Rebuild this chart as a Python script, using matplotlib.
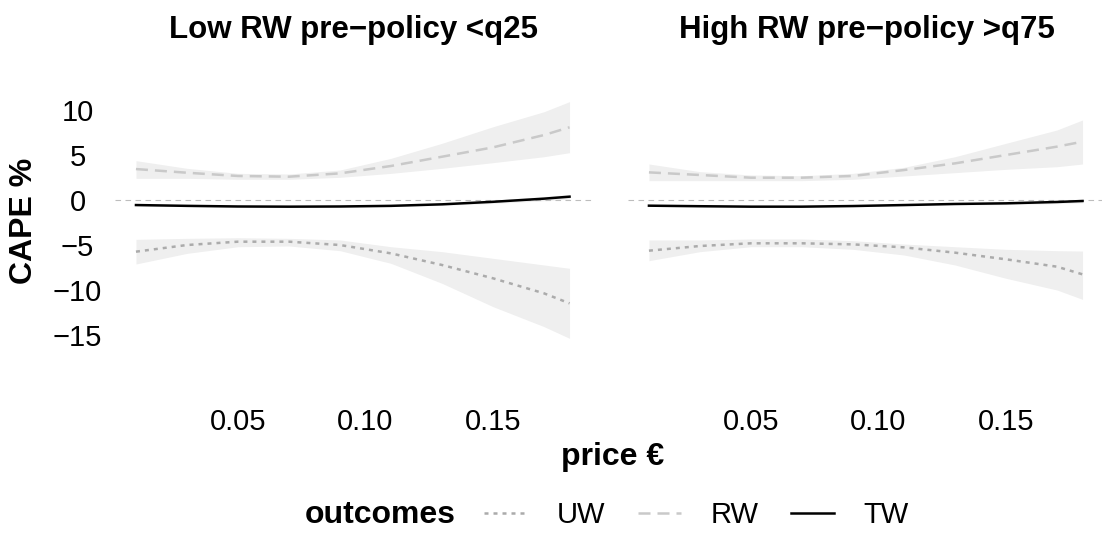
"""CAPE by price, low vs high RW pre-policy groups."""
import matplotlib
matplotlib.use("Agg")
import matplotlib.pyplot as plt
from matplotlib.lines import Line2D

plt.rcParams['font.family'] = ['Liberation Sans', 'DejaVu Sans']

price = [0.01, 0.03, 0.05, 0.07, 0.09, 0.11, 0.13, 0.15, 0.17, 0.18]

# left panel: Low RW pre-policy <q25
low_rw = [3.44, 3.03, 2.67, 2.59, 2.96, 3.78, 4.81, 5.85, 7.22, 8.08]
low_rw_hi = [4.37, 3.52, 2.96, 2.89, 3.33, 4.63, 6.30, 8.14, 9.81, 10.93]
low_rw_lo = [2.41, 2.41, 2.30, 2.30, 2.52, 2.96, 3.52, 4.15, 4.81, 5.26]
low_uw = [-5.74, -5.00, -4.63, -4.63, -5.00, -5.93, -7.22, -8.70, -10.37, -11.48]
low_uw_hi = [-4.37, -4.26, -4.19, -4.26, -4.44, -5.19, -5.74, -6.48, -7.22, -7.59]
low_uw_lo = [-7.11, -5.93, -5.19, -5.11, -5.63, -7.04, -9.26, -11.85, -14.07, -15.37]
low_tw = [-0.56, -0.65, -0.72, -0.74, -0.72, -0.65, -0.48, -0.20, 0.15, 0.37]
low_tw_hi = [-0.46, -0.57, -0.66, -0.69, -0.66, -0.57, -0.36, -0.02, 0.38, 0.62]
low_tw_lo = [-0.66, -0.73, -0.78, -0.79, -0.78, -0.73, -0.60, -0.38, -0.08, 0.12]

# right panel: High RW pre-policy >q75
high_rw = [3.07, 2.78, 2.48, 2.48, 2.67, 3.33, 4.07, 5.00, 5.93, 6.48]
high_rw_hi = [4.00, 3.15, 2.78, 2.70, 2.96, 3.63, 4.81, 6.30, 7.78, 8.89]
high_rw_lo = [2.15, 2.15, 2.15, 2.15, 2.30, 2.67, 3.04, 3.41, 3.70, 4.00]
high_uw = [-5.63, -5.11, -4.81, -4.81, -4.93, -5.26, -5.85, -6.59, -7.41, -8.26]
high_uw_hi = [-4.44, -4.44, -4.33, -4.33, -4.52, -4.89, -5.19, -5.48, -5.63, -5.67]
high_uw_lo = [-6.74, -5.74, -5.19, -5.19, -5.48, -6.11, -7.22, -8.70, -10.00, -11.04]
high_tw = [-0.63, -0.69, -0.74, -0.74, -0.67, -0.56, -0.44, -0.37, -0.22, -0.11]
high_tw_hi = [-0.55, -0.62, -0.68, -0.68, -0.60, -0.47, -0.33, -0.23, -0.04, 0.09]
high_tw_lo = [-0.71, -0.76, -0.80, -0.80, -0.74, -0.65, -0.55, -0.51, -0.40, -0.31]

titles = ['Low RW pre\u2212policy <q25', 'High RW pre\u2212policy >q75']
x_ticks = [0.05, 0.10, 0.15]
x_tick_labels = ['0.05', '0.10', '0.15']
y_ticks = [10, 5, 0, -5, -10, -15]
y_tick_labels = ['10', '5', '0', '\u22125', '\u221210', '\u221215']

UW_COL = '#ababab'
RW_COL = '#c9c9c9'
BAND = '#efefef'
LW = 1.8


def draw_panel(ax, title, rw, rw_hi, rw_lo, uw, uw_hi, uw_lo, tw, tw_hi, tw_lo):
    ax.fill_between(price, rw_lo, rw_hi, color=BAND, lw=0)
    ax.fill_between(price, uw_lo, uw_hi, color=BAND, lw=0)
    ax.fill_between(price, tw_lo, tw_hi, color=BAND, lw=0)
    ax.axhline(0, color='#bdbdbd', lw=0.8, dashes=(5, 4))
    ax.plot(price, uw, color=UW_COL, lw=LW, dashes=(1.6, 2.0))
    ax.plot(price, rw, color=RW_COL, lw=LW, dashes=(4.8, 2.8))
    ax.plot(price, tw, color='black', lw=LW)
    ax.set_xlim(0.0018, 0.1888)
    ax.set_ylim(-16.89, 12.22)
    ax.set_xticks(x_ticks)
    ax.set_xticklabels(x_tick_labels)
    ax.tick_params(axis='both', length=0, labelsize=21)
    ax.tick_params(axis='x', pad=40)
    for s in ax.spines.values():
        s.set_visible(False)
    ax.text(0.5, 1.229, title, transform=ax.transAxes, ha='center', va='center',
            fontsize=22.5, fontweight='bold')


fig = plt.figure(figsize=(11.02, 5.40), dpi=100)
ax1 = fig.add_axes([0.1044, 0.3481, 0.4328, 0.4852])
ax2 = fig.add_axes([0.5699, 0.3481, 0.4328, 0.4852])

draw_panel(ax1, titles[0], low_rw, low_rw_hi, low_rw_lo, low_uw, low_uw_hi, low_uw_lo,
           low_tw, low_tw_hi, low_tw_lo)
draw_panel(ax2, titles[1], high_rw, high_rw_hi, high_rw_lo, high_uw, high_uw_hi, high_uw_lo,
           high_tw, high_tw_hi, high_tw_lo)

ax1.set_yticks(y_ticks)
ax1.set_yticklabels(y_tick_labels, ha='center')
ax1.tick_params(axis='y', pad=27)
ax2.set_yticks(y_ticks)
ax2.set_yticklabels([])

fig.text(24 / 1102, 1 - 221 / 540, 'CAPE %', rotation=90, ha='center', va='center',
         fontsize=23, fontweight='bold')
fig.text(613 / 1102, 1 - 457 / 540, 'price \u20ac', ha='center', va='center',
         fontsize=23, fontweight='bold')

handles = [Line2D([], [], color=UW_COL, lw=LW, dashes=(1.6, 2.0)),
           Line2D([], [], color=RW_COL, lw=LW, dashes=(4.8, 2.8)),
           Line2D([], [], color='black', lw=LW)]
fig.legend(handles, ['UW', 'RW', 'TW'], ncol=3, loc='center left',
           bbox_to_anchor=(484 / 1102, 1 - 515 / 540), frameon=False, fontsize=21,
           handlelength=1.5, handletextpad=1.0, columnspacing=1.1,
           borderpad=0, borderaxespad=0)
fig.text(305 / 1102, 1 - 515 / 540, 'outcomes', ha='left', va='center',
         fontsize=23, fontweight='bold')

fig.savefig('out.png', dpi=100, facecolor='white')
